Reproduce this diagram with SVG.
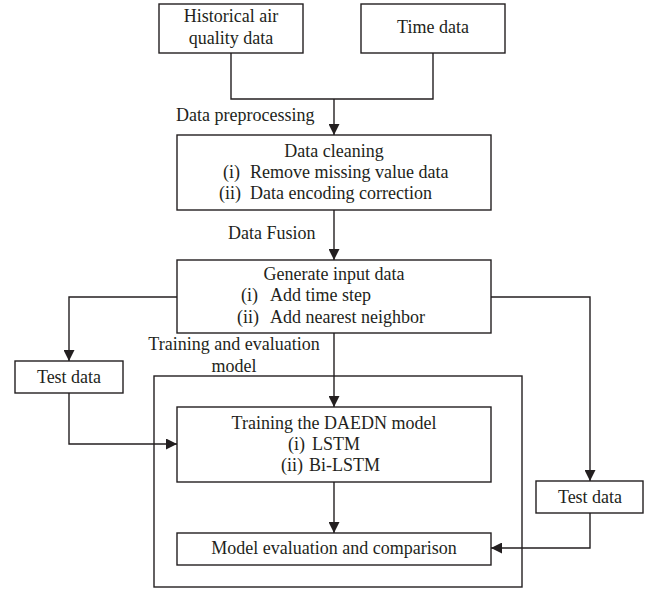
<svg xmlns="http://www.w3.org/2000/svg" width="648" height="590" viewBox="0 0 648 590">
<style>
.box{fill:#fff;stroke:#231f20;stroke-width:1.4}
.frame{fill:none;stroke:#231f20;stroke-width:1.4}
.ln{fill:none;stroke:#231f20;stroke-width:1.4}
text{font-family:"Liberation Serif","Times New Roman",serif;font-size:18px;fill:#231f20}
.c{text-anchor:middle}
</style>
<defs>
<marker id="ah" markerUnits="userSpaceOnUse" markerWidth="11" markerHeight="11" refX="11" refY="5.5" orient="auto">
<path d="M0,0 L11,5.5 L0,11 z" fill="#231f20"/>
</marker>
</defs>
<rect width="648" height="590" fill="#fff"/>
<g id="trainingGroup">
<rect class="frame" x="154" y="376" width="368" height="211"/>
<text class="c" x="234" y="350">Training and evaluation</text>
<text class="c" x="234" y="372">model</text>
</g>
<g id="connectors">
<polyline class="ln" points="231,53 231,99 433,99 433,53"/>
<line class="ln" x1="334" y1="99" x2="334" y2="135" marker-end="url(#ah)"/>
<line class="ln" x1="334" y1="210" x2="334" y2="260" marker-end="url(#ah)"/>
<line class="ln" x1="334" y1="333" x2="334" y2="407" marker-end="url(#ah)"/>
<line class="ln" x1="334" y1="482" x2="334" y2="533" marker-end="url(#ah)"/>
<polyline class="ln" points="177,297 69,297 69,361" marker-end="url(#ah)"/>
<polyline class="ln" points="69,393 69,444 177,444" marker-end="url(#ah)"/>
<polyline class="ln" points="491,297 590,297 590,481" marker-end="url(#ah)"/>
<polyline class="ln" points="590,513 590,548 491,548" marker-end="url(#ah)"/>
<text x="176" y="121">Data preprocessing</text>
<text x="228" y="239">Data Fusion</text>
</g>
<g id="historical">
<rect class="box" x="159" y="4" width="144" height="49"/>
<text class="c" x="231" y="22">Historical air</text>
<text class="c" x="231" y="44">quality data</text>
</g>
<g id="time">
<rect class="box" x="361" y="4" width="144" height="49"/>
<text class="c" x="433" y="33">Time data</text>
</g>
<g id="cleaning">
<rect class="box" x="177" y="135" width="314" height="75"/>
<text class="c" x="334" y="157">Data cleaning</text>
<text x="223" y="178">(i)</text><text x="250" y="178">Remove missing value data</text>
<text x="219" y="199">(ii)</text><text x="250" y="199">Data encoding correction</text>
</g>
<g id="generate">
<rect class="box" x="177" y="260" width="314" height="73"/>
<text class="c" x="334" y="280">Generate input data</text>
<text x="241" y="301">(i)</text><text x="270" y="301">Add time step</text>
<text x="237" y="323">(ii)</text><text x="270" y="323">Add nearest neighbor</text>
</g>
<g id="testLeft">
<rect class="box" x="15" y="361" width="108" height="32"/>
<text class="c" x="69" y="383">Test data</text>
</g>
<g id="training">
<rect class="box" x="177" y="407" width="314" height="75"/>
<text class="c" x="334" y="429">Training the DAEDN model</text>
<text x="288" y="450">(i)</text><text x="312" y="450">LSTM</text>
<text x="281" y="471">(ii)</text><text x="309" y="471">Bi-LSTM</text>
</g>
<g id="evaluation">
<rect class="box" x="177" y="533" width="314" height="32"/>
<text class="c" x="334" y="554">Model evaluation and comparison</text>
</g>
<g id="testRight">
<rect class="box" x="536" y="481" width="107" height="32"/>
<text class="c" x="590" y="503">Test data</text>
</g>
</svg>
